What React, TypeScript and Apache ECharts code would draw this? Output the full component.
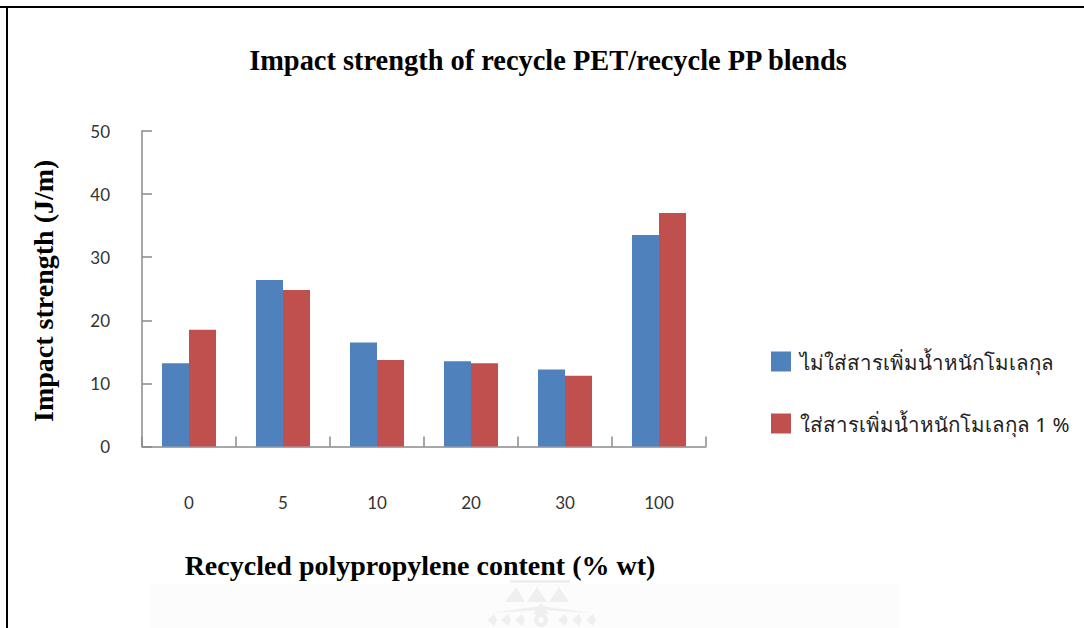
import React, { useEffect, useRef } from "react";
import * as echarts from "echarts";

const categories = ["0", "5", "10", "20", "30", "100"];
const noAdditive = [13.2, 26.4, 16.5, 13.5, 12.2, 33.5];
const withAdditive = [18.5, 24.8, 13.7, 13.2, 11.2, 37.0];
const seriesNames = ["ไม่ใส่สารเพิ่มน้ำหนักโมเลกุล", "ใส่สารเพิ่มน้ำหนักโมเลกุล 1 %"];
const titleText = "Impact strength of recycle PET/recycle PP blends";
const xName = "Recycled polypropylene content (% wt)";
const yName = "Impact strength (J/m)";
const serif = "'Liberation Serif', serif";
const sans = "'Noto Sans', 'DejaVu Sans', sans-serif";
const tickFont = "Lato, 'Noto Sans', sans-serif";
const axisGrey = "#8a8a8a";
const markGrey = "#efefef";

const watermark: any[] = [
  { type: "rect", shape: { x: 150, y: 584, width: 750, height: 44 }, style: { fill: "#fcfcfc" } },
  { type: "rect", shape: { x: 510, y: 580, width: 60, height: 3 }, style: { fill: markGrey } },
  { type: "polygon", shape: { points: [[505, 602], [516, 587], [525, 602]] }, style: { fill: markGrey } },
  { type: "polygon", shape: { points: [[527, 602], [537, 587], [547, 602]] }, style: { fill: markGrey } },
  { type: "polygon", shape: { points: [[549, 602], [559, 587], [569, 602]] }, style: { fill: markGrey } },
  { type: "polygon", shape: { points: [[491, 613], [541, 606], [591, 613], [541, 610]] }, style: { fill: markGrey } },
  { type: "polygon", shape: { points: [[533, 614], [541, 603], [549, 614]] }, style: { fill: markGrey } },
  { type: "ring", shape: { cx: 541, cy: 620, r: 7, r0: 3 }, style: { fill: markGrey } },
  ...[487, 501, 515, 558, 572, 586].map((x) => ({
    type: "polygon",
    shape: { points: [[x, 620], [x + 7, 614], [x + 10, 620], [x + 7, 626]] },
    style: { fill: markGrey },
  })),
].map((g) => ({ ...g, silent: true, z: -1 }));

export default function App() {
  const ref = useRef<HTMLDivElement>(null);
  useEffect(() => {
    document.body.style.margin = "0";
    const chart = echarts.init(ref.current!, undefined, { renderer: "svg" });
    chart.setOption({
      animation: false,
      backgroundColor: "#fff",
      title: {
        text: titleText,
        left: 543,
        top: 41,
        textAlign: "center",
        textStyle: { fontFamily: serif, fontSize: 28.4, fontWeight: "bold", color: "#000" },
      },
      grid: { left: 142, top: 131, width: 564, height: 315.5 },
      legend: {
        orient: "vertical",
        left: 766,
        top: 346,
        icon: "rect",
        itemWidth: 20,
        itemHeight: 20,
        itemGap: 41,
        textStyle: { fontFamily: sans, fontSize: 20.5, color: "#222", padding: [0, 0, 0, 4] },
        data: seriesNames,
      },
      xAxis: {
        type: "category",
        data: categories,
        name: xName,
        nameLocation: "middle",
        nameGap: 105,
        nameTextStyle: { fontFamily: serif, fontSize: 28, fontWeight: "bold", color: "#000", padding: [0, 8, 0, 0] },
        axisLine: { lineStyle: { color: axisGrey, width: 1.5 } },
        axisTick: { show: true, inside: true, length: 10, alignWithLabel: false, lineStyle: { color: axisGrey, width: 1.5 } },
        axisLabel: { margin: 47, fontFamily: tickFont, fontSize: 17, color: "#333" },
      },
      yAxis: {
        type: "value",
        min: 0,
        max: 50,
        interval: 10,
        name: yName,
        nameLocation: "middle",
        nameGap: 85,
        nameTextStyle: { fontFamily: serif, fontSize: 28, fontWeight: "bold", color: "#000", padding: [0, 4, 0, 0] },
        axisLine: { show: true, lineStyle: { color: axisGrey, width: 1.5 } },
        axisTick: { show: true, inside: true, length: 10, lineStyle: { color: axisGrey, width: 1.5 } },
        axisLabel: { margin: 32, fontFamily: tickFont, fontSize: 17, color: "#333" },
        splitLine: { show: false },
      },
      series: [
        { name: seriesNames[0], type: "bar", data: noAdditive, barGap: 0, barCategoryGap: "42.5%", itemStyle: { color: "#4f81bd" } },
        { name: seriesNames[1], type: "bar", data: withAdditive, itemStyle: { color: "#c0504d" } },
      ],
      graphic: [
        ...watermark,
        { type: "rect", shape: { x: 0, y: 6, width: 1084, height: 2 }, style: { fill: "#000" }, silent: true },
        { type: "rect", shape: { x: 6, y: 6, width: 2, height: 622 }, style: { fill: "#000" }, silent: true },
      ],
    });
    return () => chart.dispose();
  }, []);
  return <div ref={ref} style={{ width: 1084, height: 628 }} />;
}
